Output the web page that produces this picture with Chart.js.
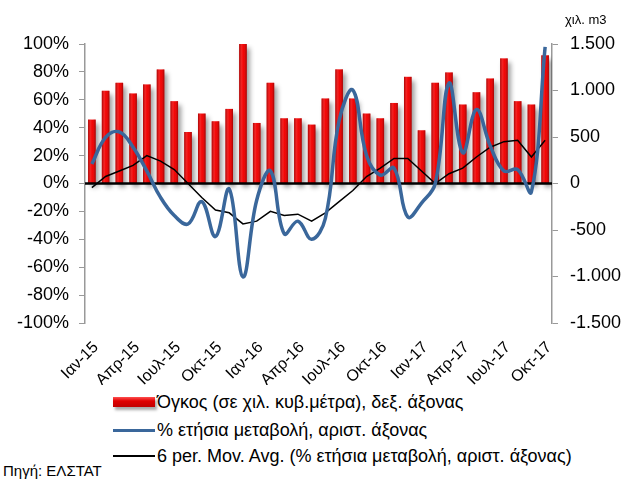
<!DOCTYPE html>
<html>
<head>
<meta charset="utf-8">
<script src="https://cdn.jsdelivr.net/npm/chart.js@4/dist/chart.umd.min.js"></script>
<style>
  body { margin: 0; background: #fff; font-family: 'Liberation Sans', Arial, sans-serif; }
  #wrap { position: relative; width: 630px; height: 479px; overflow: hidden; }
  #chart { position: absolute; left: 0; top: 0; }
  .unit { position: absolute; left: 565px; top: 12px; font-size: 13px; font-family: 'Liberation Sans Narrow', 'Liberation Sans', sans-serif; }
  .row { position: absolute; left: 113px; height: 20px; display: flex; align-items: center; font-size: 18px; white-space: nowrap; }
  .sw { width: 42px; margin-right: 2px; }
  .sw.bar { height: 10px; background: linear-gradient(#ff5050, #e00000 40%, #c00000); box-shadow: 2px 3px 3px rgba(0,0,0,0.35); }
  .sw.blue { height: 3px; background: #3a679b; }
  .sw.black { height: 1.5px; background: #000; }
  .src { position: absolute; left: 3px; top: 462px; font-size: 15px; }
</style>
</head>
<body>
<div id="wrap">
  <canvas id="chart" width="630" height="385"></canvas>
  <div class="unit">χιλ. m3</div>
  <div class="row" style="top:392px"><div class="sw bar"></div>Όγκος (σε χιλ. κυβ.μέτρα), δεξ. άξονας</div>
  <div class="row" style="top:420px"><div class="sw blue"></div>% ετήσια μεταβολή, αριστ. άξονας</div>
  <div class="row" style="top:446px"><div class="sw black"></div>6 per. Mov. Avg. (% ετήσια μεταβολή, αριστ. άξονας)</div>
  <div class="src">Πηγή: ΕΛΣΤΑΤ</div>
</div>
<script>
// Μήνες
const months = [
    'Ιαν-15', 'Φεβ-15', 'Μαρ-15', 'Απρ-15', 'Μαϊ-15', 'Ιουν-15', 'Ιουλ-15', 'Αυγ-15', 'Σεπ-15', 'Οκτ-15', 'Νοε-15', 'Δεκ-15',
    'Ιαν-16', 'Φεβ-16', 'Μαρ-16', 'Απρ-16', 'Μαϊ-16', 'Ιουν-16', 'Ιουλ-16', 'Αυγ-16', 'Σεπ-16', 'Οκτ-16', 'Νοε-16', 'Δεκ-16',
    'Ιαν-17', 'Φεβ-17', 'Μαρ-17', 'Απρ-17', 'Μαϊ-17', 'Ιουν-17', 'Ιουλ-17', 'Αυγ-17', 'Σεπ-17', 'Οκτ-17'
];

// Όγκος (χιλ. m3), δεξιός άξονας
const volume = [687, 996, 1082, 968, 1065, 1227, 885, 554, 752, 669, 802, 1500,
    651, 1082, 701, 701, 633, 914, 1227, 914, 752, 701, 866, 1147,
    572, 1082, 1194, 849, 982, 1129, 1345, 885, 849, 1378];

// % ετήσια μεταβολή, αριστερός άξονας
const yoyChange = [14, 33, 37, 26, 9, -10, -23, -29, -13, -38, -4, -67,
    -12, 9, -36, -27, -40, -25, 45, 67, 20, 6, 11, -24,
    -14, 0, 72, 22, 53, 27, 9, 10, -6, 98];

// 6 per. Mov. Avg.
const movAvg = [-3, 5, 9, 13, 20, 16, 10, 0, -10, -19, -21, -29,
    -27, -20, -23, -22, -27, -21, -13, -5, 5, 11, 18, 18,
    9, 0, 7, 11, 19, 26, 30, 31, 19, 31];

// Ticks
const pctTicks = { min: -100, max: 100, step: 20 };
const volTicks = { min: -1500, max: 1500, step: 500 };

function fmtThousands(v) {
    const s = String(Math.abs(v)).replace(/\B(?=(\d{3})+(?!\d))/g, '.');
    return (v < 0 ? '-' : '') + s;
}

// Σκιά και γυάλισμα στις μπάρες, γραμμή μηδέν από πάνω
const barStyle = {
    id: 'barStyle',
    beforeDatasetDraw(chart, args) {
        if (args.index !== 0) return;
        const ctx = chart.ctx;
        ctx.save();
        ctx.shadowColor = 'rgba(0,0,0,0.4)';
        ctx.shadowBlur = 5;
        ctx.shadowOffsetX = 3;
        ctx.shadowOffsetY = 4;
    },
    afterDatasetDraw(chart, args) {
        if (args.index !== 0) return;
        const ctx = chart.ctx;
        ctx.restore();
        args.meta.data.forEach(bar => {
            const w = bar.width;
            const x0 = bar.x - w / 2;
            const g = ctx.createLinearGradient(x0, 0, x0 + w, 0);
            g.addColorStop(0, 'rgba(120,0,0,0.6)');
            g.addColorStop(0.35, 'rgba(255,110,110,0.3)');
            g.addColorStop(0.55, 'rgba(255,60,60,0.1)');
            g.addColorStop(1, 'rgba(110,0,0,0.6)');
            ctx.fillStyle = g;
            ctx.fillRect(x0, bar.y, w, bar.base - bar.y);
        });
        const area = chart.chartArea;
        const y0 = chart.scales.y.getPixelForValue(0);
        ctx.save();
        ctx.strokeStyle = '#000';
        ctx.lineWidth = 2.5;
        ctx.beginPath();
        ctx.moveTo(area.left, y0);
        ctx.lineTo(area.right, y0);
        ctx.stroke();
        ctx.restore();
    }
};

new Chart(document.getElementById('chart'), {
    type: 'bar',
    data: {
        labels: months,
        datasets: [
            {
                type: 'bar',
                label: 'Όγκος (σε χιλ. κυβ.μέτρα), δεξ. άξονας',
                data: volume,
                yAxisID: 'y1',
                backgroundColor: '#f00000',
                barPercentage: 0.55,
                categoryPercentage: 1,
                order: 3
            },
            {
                type: 'line',
                label: '% ετήσια μεταβολή, αριστ. άξονας',
                data: yoyChange,
                yAxisID: 'y',
                borderColor: '#3a679b',
                borderWidth: 3.5,
                pointRadius: 0,
                tension: 0.4,
                order: 1
            },
            {
                type: 'line',
                label: '6 per. Mov. Avg. (% ετήσια μεταβολή, αριστ. άξονας)',
                data: movAvg,
                yAxisID: 'y',
                borderColor: '#000',
                borderWidth: 1.5,
                pointRadius: 0,
                tension: 0,
                order: 2
            }
        ]
    },
    options: {
        responsive: false,
        animation: false,
        layout: { padding: { top: 44, left: 0, right: 0, bottom: 0 } },
        plugins: { legend: { display: false }, tooltip: { enabled: false } },
        scales: {
            x: {
                offset: true,
                grid: { display: false },
                border: { display: false },
                ticks: {
                    autoSkip: false,
                    maxRotation: 45,
                    minRotation: 45,
                    color: '#000',
                    font: { size: 16, family: "'Liberation Sans', Arial, sans-serif" },
                    padding: 7,
                    labelOffset: 4,
                    callback: function(v, i) { return i % 3 === 0 ? this.getLabelForValue(v) : ''; }
                },
                afterFit: s => { s.height = 62; }
            },
            y: {
                position: 'left',
                min: pctTicks.min,
                max: pctTicks.max,
                ticks: {
                    stepSize: pctTicks.step,
                    callback: v => v + '%',
                    color: '#000',
                    font: { size: 18, family: "'Liberation Sans', Arial, sans-serif" },
                    padding: 10
                },
                grid: { drawOnChartArea: false, color: '#999', tickLength: 6 },
                border: { color: '#999', width: 1.5 },
                afterFit: s => { s.width = 85; }
            },
            y1: {
                position: 'right',
                min: volTicks.min,
                max: volTicks.max,
                ticks: {
                    stepSize: volTicks.step,
                    callback: v => fmtThousands(v),
                    color: '#000',
                    font: { size: 18, family: "'Liberation Sans', Arial, sans-serif" },
                    padding: 12
                },
                grid: { drawOnChartArea: false, color: '#999', tickLength: 6 },
                border: { color: '#999', width: 1.5 },
                afterFit: s => { s.width = 78; }
            }
        }
    },
    plugins: [barStyle]
});
</script>
</body>
</html>
